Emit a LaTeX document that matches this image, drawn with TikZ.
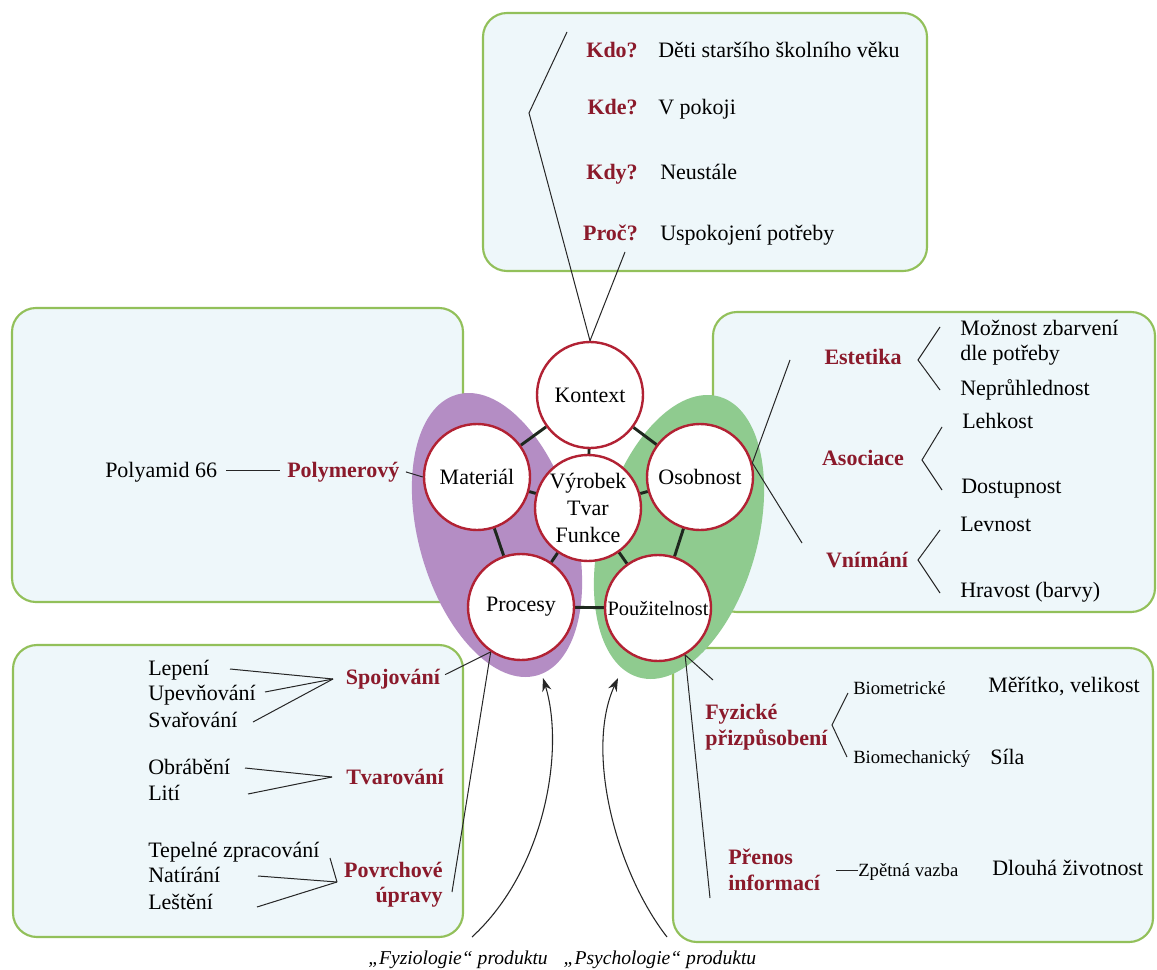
\documentclass[tikz,border=0pt]{standalone}
\usepackage{fontspec}
\setmainfont{Liberation Serif}
\usetikzlibrary{arrows.meta}

\definecolor{panelline}{RGB}{146,192,90}
\definecolor{panelfill}{RGB}{238,247,250}
\definecolor{lilac}{RGB}{180,141,196}
\definecolor{leaf}{RGB}{143,203,143}
\definecolor{ringred}{RGB}{178,34,52}
\definecolor{headred}{RGB}{139,26,43}
\definecolor{linkdark}{RGB}{30,40,30}

\newcommand\fmain{\fontsize{16.5}{20}\selectfont}
\newcommand\fsmall{\fontsize{14}{17}\selectfont}
\newcommand\fital{\fontsize{14.7}{18}\selectfont\itshape}

\pgfdeclarelayer{back}
\pgfsetlayers{back,main}

\begin{document}
\begin{tikzpicture}[x=0.75pt,y=-0.75pt,
  panel/.style={draw=panelline,line width=1.6pt,fill=panelfill,rounded corners=18pt},
  hub/.style={circle,draw=ringred,line width=1.8pt,fill=white,minimum size=79.5pt,inner sep=0pt,align=center,font=\fmain},
  hublink/.style={draw=linkdark,line width=2.2pt},
  wire/.style={draw=black!85,line width=0.75pt},
  txt/.style={font=\fmain,inner sep=0pt,text height=11pt,text depth=0pt},
  hdr/.style={font=\fmain\bfseries,text=headred,inner sep=0pt,text height=11pt,text depth=0pt},
  sml/.style={font=\fsmall,inner sep=0pt,text height=9.3pt,text depth=0pt},
  arr/.style={draw=black!85,line width=0.8pt,-{Stealth[length=10pt,width=7pt]}},
]
\useasboundingbox (0,0) rectangle (1157,970);

% central hubs
\node[hub] (kon) at (590,395) {Kontext};
\node[hub] (mat) at (477,477) {Materiál};
\node[hub] (vyr) at (588,508) {Výrobek\\Tvar\\Funkce};
\node[hub] (oso) at (700,477) {Osobnost};
\node[hub] (pro) at (521,607) {Procesy};
\node[hub] (pou) at (658,608) {\fontsize{15.3}{18}\selectfont Použitelnost};

\begin{pgfonlayer}{back}
  \fill[white] (0,0) rectangle (1157,970);
  % panels
  \draw[panel] (483,13) rectangle (927,271);
  \draw[panel] (12,308) rectangle (463,602);
  \draw[panel] (713,312) rectangle (1155,612);
  \draw[panel] (13,645) rectangle (463,937);
  \draw[panel] (673,648) rectangle (1153,942);
  % groups behind the hubs
  \fill[lilac] (497,535) ellipse [x radius=58.5pt, y radius=109.5pt, rotate=16];
  \fill[leaf] (679,537) ellipse [x radius=58.5pt, y radius=109.5pt, rotate=-16];
  % hub links
  \draw[hublink] (kon) -- (mat);
  \draw[hublink] (kon) -- (oso);
  \draw[hublink] (kon) -- (vyr);
  \draw[hublink] (mat) -- (vyr);
  \draw[hublink] (oso) -- (vyr);
  \draw[hublink] (mat) -- (pro);
  \draw[hublink] (oso) -- (pou);
  \draw[hublink] (vyr) -- (pro);
  \draw[hublink] (vyr) -- (pou);
  \draw[hublink] (pro) -- (pou);
\end{pgfonlayer}

% context panel
\node[hdr,anchor=east] (q1) at (638,50) {Kdo?};
\node[txt,anchor=west] (a1) at (658,50) {Děti staršího školního věku};
\node[hdr,anchor=east] (q2) at (638,107) {Kde?};
\node[txt,anchor=west] (a2) at (658,107) {V pokoji};
\node[hdr,anchor=east] (q3) at (638,172) {Kdy?};
\node[txt,anchor=west] (a3) at (660,172) {Neustále};
\node[hdr,anchor=east] (q4) at (638,233) {Proč?};
\node[txt,anchor=west] (a4) at (660,233) {Uspokojení potřeby};
\coordinate (kbend) at (529,113);
\coordinate (ktop) at (567,32);
\coordinate (kend) at (625,252);
\draw[wire] (kon.north) -- (kbend) -- (ktop);
\draw[wire] (kon.north) -- (kend);

% material panel
\node[txt,anchor=west] (pa) at (105,470) {Polyamid 66};
\node[hdr,anchor=west] (pm) at (287,470) {Polymerový};
\draw[wire,shorten <=6.5pt,shorten >=5pt] (pa.east) -- (pm.west);
\draw[wire,shorten <=5pt] (pm.east) -- (mat.west);

% personality panel
\coordinate (oe) at (790,360);
\coordinate (ov) at (802,543);
\draw[wire] (oso.15) -- (oe);
\draw[wire] (oso.15) -- (ov);
\node[hdr] (est) at (863,357) {Estetika};
\node[hdr] (aso) at (863,458) {Asociace};
\node[hdr] (vni) at (867,560) {Vnímání};
\node[txt,anchor=west] (e1) at (960,328) {Možnost zbarvení};
\node[txt,anchor=west] (e2) at (960,353) {dle potřeby};
\node[txt,anchor=west] (e3) at (960,388) {Neprůhlednost};
\node[txt,anchor=west] (s1) at (962,421) {Lehkost};
\node[txt,anchor=west] (s2) at (961,486) {Dostupnost};
\node[txt,anchor=west] (v1) at (960,524) {Levnost};
\node[txt,anchor=west] (v2) at (960,590) {Hravost (barvy)};
\draw[wire] (940,327) -- (918,360) -- (940,390);
\draw[wire] (942,427) -- (922,460) -- (942,490);
\draw[wire] (940,530) -- (918,560) -- (940,593);

% process panel
\node[txt,anchor=west] (p1) at (148,668) {Lepení};
\node[txt,anchor=west] (p2) at (148,693) {Upevňování};
\node[txt,anchor=west] (p3) at (148,720) {Svařování};
\node[hdr] (spo) at (393,677) {Spojování};
\coordinate (spv) at (333,679);
\draw[wire] (230,669) -- (spv);
\draw[wire] (265,692) -- (spv);
\draw[wire] (253,722) -- (spv);
\node[txt,anchor=west] (p4) at (148,767) {Obrábění};
\node[txt,anchor=west] (p5) at (148,793) {Lití};
\node[hdr] (tva) at (395,777) {Tvarování};
\coordinate (tvv) at (332,777);
\draw[wire] (245,768) -- (tvv);
\draw[wire] (248,794) -- (tvv);
\node[txt,anchor=west] (p6) at (148,850) {Tepelné zpracování};
\node[txt,anchor=west] (p7) at (148,875) {Natírání};
\node[txt,anchor=west] (p8) at (148,902) {Leštění};
\node[hdr,anchor=east] (pov1) at (443,870) {Povrchové};
\node[hdr,anchor=east] (pov2) at (443,895) {úpravy};
\coordinate (pvv) at (337,882);
\draw[wire] (330,858) -- (pvv);
\draw[wire] (258,876) -- (pvv);
\draw[wire] (257,907) -- (pvv);
\draw[wire,shorten >=4pt] (pro.236) -- (spo.east);
\coordinate (pvend) at (452,892);
\draw[wire] (pro.236) -- (pvend);

% usability panel
\coordinate (uf) at (713,680);
\coordinate (ui) at (710,898);
\draw[wire] (pou.300) -- (uf);
\draw[wire] (pou.300) -- (ui);
\node[hdr,anchor=west] (f1) at (705,712) {Fyzické};
\node[hdr,anchor=west] (f2) at (705,738) {přizpůsobení};
\draw[wire] (848,693) -- (832,725) -- (847,757);
\node[sml,anchor=west] (b1) at (853,688) {Biometrické};
\node[sml,anchor=west] (b2) at (853,757) {Biomechanický};
\node[txt,anchor=west] (m1) at (988,685) {Měřítko, velikost};
\node[txt,anchor=west] (m2) at (990,757) {Síla};
\node[hdr,anchor=west] (i1) at (728,857) {Přenos};
\node[hdr,anchor=west] (i2) at (728,883) {informací};
\node[sml,anchor=west] (zv) at (858,870) {Zpětná vazba};
\draw[wire,shorten <=4.5pt] (zv.west) ++(-28,0) -- (zv.west);
\node[txt,anchor=west] (dz) at (992,868) {Dlouhá životnost};

% bottom captions with arrows
\node[font=\fital,inner sep=0pt] (fyz) at (458,960) {„Fyziologie“ produktu};
\node[font=\fital,inner sep=0pt] (psy) at (660,960) {„Psychologie“ produktu};
\coordinate (fyzs) at (472,937);
\coordinate (fyzt) at (543,678);
\coordinate (psys) at (667,937);
\coordinate (psyt) at (618,678);
\draw[arr] (fyzs) .. controls (545,870) and (565,750) .. (fyzt);
\draw[arr] (psys) .. controls (615,870) and (585,750) .. (psyt);
\end{tikzpicture}
\end{document}
